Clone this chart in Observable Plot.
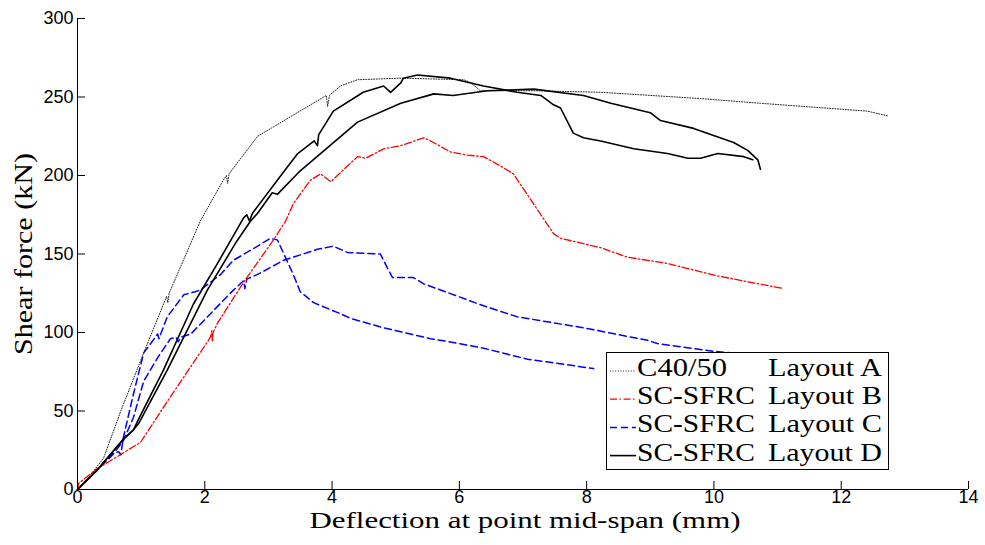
<!DOCTYPE html>
<html><head><meta charset="utf-8">
<script src="https://cdn.jsdelivr.net/npm/d3@7"></script>
<script src="https://cdn.jsdelivr.net/npm/@observablehq/plot@0.6"></script>
<style>html,body{margin:0;padding:0;background:#fff;}</style>
</head><body><div id="chart"></div>
<script>
// ---- data ----
const xTicks = [0, 2, 4, 6, 8, 10, 12, 14];
const yTicks = [0, 50, 100, 150, 200, 250, 300];
const xLabel = "Deflection at point mid-span (mm)";
const yLabel = "Shear force (kN)";
const legendNames = ["C40/50", "SC-SFRC", "SC-SFRC", "SC-SFRC"];
const legendLayouts = ["Layout A", "Layout B", "Layout C", "Layout D"];

// C40/50 Layout A
const aX = [0,0.2,0.41,0.68,1.04,1.40,1.42,1.44,1.93,2.29,2.34,2.36,2.38,2.83,3.08,3.87,3.91,3.93,3.96,4.13,4.4,5.08,6.07,6.18,6.33,7.17,8.22,9.79,10.73,12.41,12.73];
const aY = [0,9,20,50,87,123,119,125,171,197,200,195,201,225,231,250,251,244,251,257,261,262,261,259,254,254,253,249,246,241,238];
// SC-SFRC Layout B
const bX = [0,0.02,0.3,0.99,1.41,2.09,2.11,2.12,2.13,2.2,2.61,3.08,3.27,3.39,3.66,3.82,3.98,4.4,4.53,4.81,5.08,5.44,5.55,5.86,6.13,6.38,6.65,6.85,7.48,7.59,8.22,8.64,9.27,10.06,11.09];
const bY = [0,4,13,30,56,97,101,94,100,106,132,159,171,182,197,201,196,212,211,217,219,224,222,215,213,212,206,201,163,160,154,148,144,136,128];
// SC-SFRC Layout C (two specimens)
const c1X = [0,0.3,0.55,0.65,0.68,0.72,0.88,1.04,1.26,1.28,1.41,1.67,1.85,1.93,2.25,2.45,2.83,3.03,3.14,3.39,3.5,3.71,4.13,4.29,4.81,5.55,5.86,6.38,7.07,7.43,8.11];
const c1Y = [0,12,23,24,22,33,61,87,99,96,110,124,126,127,137,146,155,160,159,137,126,119,112,109,103,96,94,90,83,81,77];
const c2X = [0,0.3,0.55,0.72,0.88,1.04,1.26,1.46,1.55,1.58,1.62,1.78,2.09,2.45,2.61,2.63,2.66,2.83,3.24,3.77,4.02,4.24,4.76,4.87,4.95,5.28,5.44,6.38,6.91,7.95,8.96,9.11,9.99,10.3];
const c2Y = [0,12,22,31,46,69,84,96,97,94,97,99,112,127,133,128,134,137,146,153,155,151,150,141,135,135,131,117,110,103,95,93,88,87];
// SC-SFRC Layout D (two specimens)
const d1X = [0,0.3,0.72,0.88,0.95,1.35,1.82,2.2,2.61,2.66,2.7,2.75,3.14,3.46,3.72,3.77,3.79,4.02,4.49,4.81,4.92,5.08,5.12,5.34,5.86,6.38,6.91,7.28,7.48,7.59,7.79,7.95,8.22,8.74,9.27,9.59,9.79,10.06,10.47,10.61];
const d1Y = [0,12,32,38,44,76,118,144,173,175,171,176,197,214,222,219,226,241,253,257,253,259,262,264,262,257,253,251,245,243,227,224,222,217,214,211,211,214,212,210];
const d2X = [0,0.3,0.72,0.88,0.96,1.41,2.04,2.5,2.72,2.83,3.06,3.14,3.5,4.4,5.08,5.6,5.9,6.44,7.17,7.95,8.38,9.0,9.16,9.68,10.31,10.53,10.69,10.73];
const d2Y = [0,12,32,38,42,76,127,158,171,176,189,188,203,234,246,252,251,254,255,251,246,240,235,230,221,216,210,204];

// ---- styles ----
const styleA = {stroke: "#222", strokeWidth: 1, strokeDasharray: "1,1.6"};
const styleB = {stroke: "#ff0000", strokeWidth: 1.3, strokeDasharray: "7,2.5,1.5,2.5"};
const styleC = {stroke: "#0000ff", strokeWidth: 1.5, strokeDasharray: "7,4"};
const styleD = {stroke: "#000", strokeWidth: 1.6};
const legendStyles = [styleA, styleB, styleC, styleD];

const toRows = (xs, ys) => xs.map((x, i) => ({x, y: ys[i]}));
const line = (xs, ys, st) => Plot.line(toRows(xs, ys), {x: "x", y: "y", ...st, strokeLinejoin: "round"});

const W = 985, H = 545;
const plot = Plot.plot({
  width: W, height: H,
  marginLeft: 77, marginRight: 17, marginTop: 18, marginBottom: 56,
  x: {domain: [0, 14]},
  y: {domain: [0, 300]},
  style: {fontFamily: "'Liberation Sans', Arial, sans-serif", fontSize: "18px", background: "white", color: "black", overflow: "visible"},
  marks: [
    line(c1X, c1Y, styleC),
    line(c2X, c2Y, styleC),
    line(bX, bY, styleB),
    line(aX, aY, styleA),
    line(d1X, d1Y, styleD),
    line(d2X, d2Y, styleD),
    Plot.ruleX([0], {stroke: "black", strokeWidth: 1}),
    Plot.ruleY([0], {stroke: "black", strokeWidth: 1}),
    Plot.axisX({ticks: xTicks, tickSize: -8, tickPadding: 9, label: null, tickFormat: d => String(d)}),
    Plot.axisY({ticks: yTicks, tickSize: -8, tickPadding: 12, label: null, tickFormat: d => String(d)})
  ]
});
document.getElementById("chart").appendChild(plot);

const svg = d3.select(plot);
const serif = "'Liberation Serif', 'Times New Roman', serif";
// axis labels
svg.append("text").attr("x", 525).attr("y", 528).attr("text-anchor", "middle")
  .attr("font-family", serif).attr("font-size", 24).attr("fill", "black")
  .attr("textLength", 431).attr("lengthAdjust", "spacingAndGlyphs").text(xLabel);
svg.append("text").attr("transform", "translate(32,254) rotate(-90)").attr("text-anchor", "middle")
  .attr("font-family", serif).attr("font-size", 25).attr("fill", "black")
  .attr("textLength", 202).attr("lengthAdjust", "spacingAndGlyphs").text(yLabel);

// legend
const lg = svg.append("g").attr("text-anchor", "start");
lg.append("rect").attr("x", 606.5).attr("y", 352.5).attr("width", 282).attr("height", 117)
  .attr("fill", "white").attr("stroke", "black").attr("stroke-width", 1);
legendNames.forEach((name, i) => {
  const base = 376 + i * 28.2;
  const st = legendStyles[i];
  lg.append("line").attr("x1", 610).attr("x2", 636).attr("y1", base - 5).attr("y2", base - 5)
    .attr("stroke", st.stroke).attr("stroke-width", st.strokeWidth)
    .attr("stroke-dasharray", st.strokeDasharray || null);
  lg.append("text").attr("x", 637).attr("y", base).attr("text-anchor", "start")
    .attr("font-family", serif).attr("font-size", 26)
    .attr("fill", "black").attr("textLength", name === "C40/50" ? 90 : 118)
    .attr("lengthAdjust", "spacingAndGlyphs").text(name);
  lg.append("text").attr("x", 768).attr("y", base).attr("text-anchor", "start")
    .attr("font-family", serif).attr("font-size", 26)
    .attr("fill", "black").attr("textLength", 114)
    .attr("lengthAdjust", "spacingAndGlyphs").text(legendLayouts[i]);
});
</script>
</body></html>
